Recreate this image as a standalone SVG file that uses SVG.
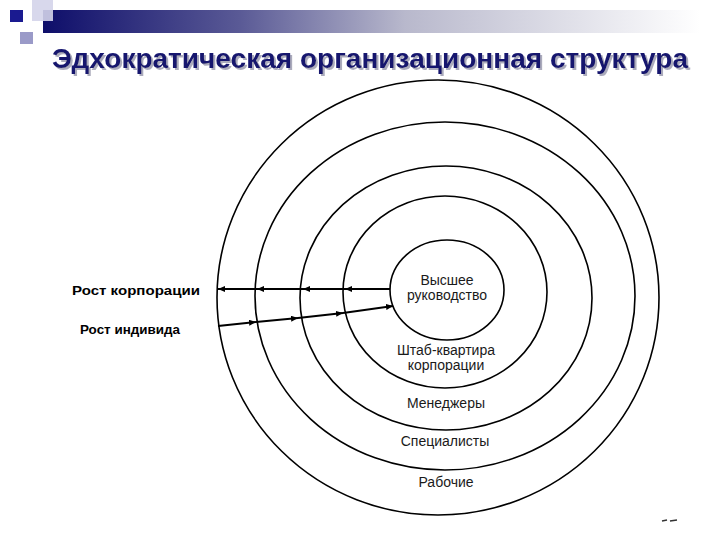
<svg xmlns="http://www.w3.org/2000/svg" width="720" height="540" viewBox="0 0 720 540">
  <defs>
    <linearGradient id="bar" x1="43" y1="0" x2="700" y2="0" gradientUnits="userSpaceOnUse">
      <stop offset="0" stop-color="#0e0e6a"/>
      <stop offset="0.3" stop-color="#5a5a96"/>
      <stop offset="0.55" stop-color="#b8b8cc"/>
      <stop offset="1" stop-color="#ffffff"/>
    </linearGradient>
    <filter id="shadow" x="-5%" y="-20%" width="110%" height="150%">
      <feDropShadow dx="2" dy="2" stdDeviation="0.6" flood-color="#8888a0" flood-opacity="0.7"/>
    </filter>
    <marker id="arr" markerWidth="8" markerHeight="6" refX="7" refY="3" orient="auto" markerUnits="userSpaceOnUse">
      <path d="M0,0 L7,3 L0,6 Z" fill="#000"/>
    </marker>
  </defs>
  <style>
    .ring { fill: none; stroke: #000; stroke-width: 1.6; }
    .lbl { font-family: "Liberation Sans", Arial, sans-serif; font-size: 14px; fill: #1a1a1a; text-anchor: middle; }
    .side { font-family: "Liberation Sans", Arial, sans-serif; font-size: 12.5px; font-weight: bold; fill: #000; }
    .title { font-family: "Liberation Sans", Arial, sans-serif; font-size: 27px; font-weight: bold; fill: #14146e; }
    .conn { fill: none; stroke: #000; stroke-width: 1.8; }
  </style>
  <rect width="720" height="540" fill="#ffffff"/>

  <g id="header">
    <rect x="43" y="10" width="677" height="23" fill="url(#bar)"/>
    <rect x="32" y="0" width="21" height="21" fill="#d4d4ea" opacity="0.9"/>
    <rect x="10" y="10" width="13" height="12" fill="#1a1a90"/>
    <rect x="20" y="32" width="13" height="12" fill="#9a9ac8"/>
    <text class="title" x="52" y="68" textLength="636" lengthAdjust="spacingAndGlyphs" filter="url(#shadow)">Эдхократическая организационная структура</text>
  </g>

  <g id="ring-workers">
    <ellipse class="ring" cx="438" cy="297.5" rx="221" ry="217.5"/>
    <text class="lbl" x="446" y="487">Рабочие</text>
  </g>
  <g id="ring-specialists">
    <ellipse class="ring" cx="445" cy="296" rx="190" ry="174"/>
    <text class="lbl" x="445" y="446">Специалисты</text>
  </g>
  <g id="ring-managers">
    <ellipse class="ring" cx="446" cy="298" rx="146" ry="132"/>
    <text class="lbl" x="446" y="408">Менеджеры</text>
  </g>
  <g id="ring-hq">
    <ellipse class="ring" cx="445" cy="292" rx="102" ry="96"/>
    <text class="lbl" x="446" y="355">Штаб-квартира</text>
    <text class="lbl" x="446" y="370">корпорации</text>
  </g>
  <g id="ring-top">
    <ellipse class="ring" cx="447" cy="290" rx="57" ry="50"/>
    <text class="lbl" x="447" y="285">Высшее</text>
    <text class="lbl" x="447" y="300">руководство</text>
  </g>

  <g id="side-labels">
    <text class="side" x="72" y="295" textLength="128" lengthAdjust="spacingAndGlyphs">Рост корпорации</text>
    <text class="side" x="80" y="334" textLength="100" lengthAdjust="spacingAndGlyphs">Рост индивида</text>
  </g>

  <g id="connectors">
    <path class="conn" d="M390,289 L345,289" marker-end="url(#arr)"/>
    <path class="conn" d="M345,289 L303,289" marker-end="url(#arr)"/>
    <path class="conn" d="M303,289 L257,289" marker-end="url(#arr)"/>
    <path class="conn" d="M257,289 L218,289" marker-end="url(#arr)"/>
    <path class="conn" d="M218,326 L256,322" marker-end="url(#arr)"/>
    <path class="conn" d="M256,322 L298,318" marker-end="url(#arr)"/>
    <path class="conn" d="M298,318 L343,313" marker-end="url(#arr)"/>
    <path class="conn" d="M343,313 L393,306" marker-end="url(#arr)"/>
  </g>

  <g id="page-number">
    <line x1="662" y1="521" x2="667" y2="520" stroke="#333" stroke-width="1.5"/>
    <line x1="670" y1="521" x2="677" y2="520" stroke="#333" stroke-width="1.5"/>
  </g>
</svg>
